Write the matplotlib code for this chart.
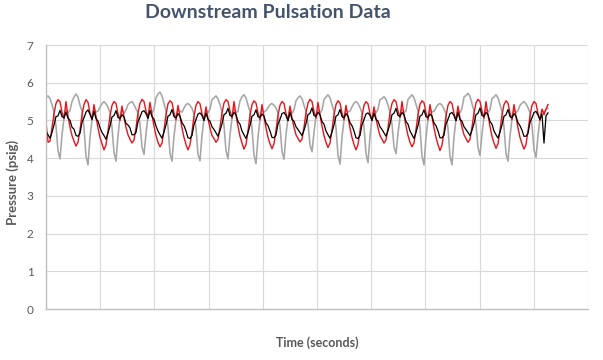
import numpy as np
import matplotlib
matplotlib.use("Agg")
import matplotlib.pyplot as plt

# pressure samples (psig), one row per pulsation cycle, 2 px apart in the source chart
GRAY = [
    5.60, 5.65, 5.58, 5.42, 5.22, 4.85, 4.20, 3.98, 4.62, 5.05, 5.28, 5.20, 5.27, 5.50,
    5.62, 5.70, 5.62, 5.40, 5.25, 4.80, 4.05, 3.82, 4.55, 5.00, 5.30, 5.22, 5.25, 5.35,
    5.45, 5.50, 5.44, 5.35, 5.20, 4.82, 4.15, 3.92, 4.60, 5.08, 5.30, 5.18, 5.28, 5.42,
    5.47, 5.50, 5.42, 5.30, 5.22, 4.90, 4.30, 4.10, 4.65, 5.10, 5.27, 5.20, 5.30, 5.60,
    5.70, 5.75, 5.65, 5.45, 5.25, 4.82, 4.12, 3.92, 4.58, 5.02, 5.30, 5.24, 5.22, 5.33,
    5.42, 5.45, 5.40, 5.32, 5.18, 4.80, 4.10, 3.93, 4.60, 5.05, 5.28, 5.20, 5.30, 5.55,
    5.60, 5.65, 5.57, 5.42, 5.22, 4.86, 4.20, 3.98, 4.62, 5.05, 5.30, 5.20, 5.25, 5.52,
    5.63, 5.68, 5.60, 5.40, 5.24, 4.80, 4.08, 3.85, 4.56, 5.02, 5.28, 5.22, 5.26, 5.34,
    5.42, 5.45, 5.40, 5.33, 5.20, 4.84, 4.18, 3.97, 4.62, 5.06, 5.30, 5.18, 5.28, 5.52,
    5.60, 5.65, 5.58, 5.40, 5.24, 4.92, 4.35, 4.17, 4.68, 5.10, 5.28, 5.20, 5.27, 5.55,
    5.62, 5.68, 5.60, 5.42, 5.23, 4.80, 4.08, 3.84, 4.55, 5.00, 5.30, 5.22, 5.25, 5.36,
    5.46, 5.50, 5.45, 5.34, 5.20, 4.82, 4.12, 3.88, 4.58, 5.05, 5.28, 5.20, 5.30, 5.55,
    5.58, 5.63, 5.56, 5.40, 5.22, 4.90, 4.30, 4.12, 4.66, 5.08, 5.30, 5.20, 5.26, 5.56,
    5.62, 5.68, 5.60, 5.42, 5.25, 4.80, 4.05, 3.82, 4.55, 5.02, 5.30, 5.22, 5.24, 5.34,
    5.42, 5.45, 5.40, 5.30, 5.18, 4.78, 4.05, 3.82, 4.56, 5.04, 5.28, 5.20, 5.32, 5.62,
    5.66, 5.72, 5.64, 5.45, 5.25, 4.90, 4.28, 4.07, 4.64, 5.08, 5.30, 5.22, 5.28, 5.58,
    5.62, 5.68, 5.60, 5.42, 5.24, 4.82, 4.12, 3.92, 4.58, 5.04, 5.30, 5.20, 5.26, 5.40,
    5.46, 5.50, 5.44, 5.34, 5.20, 4.86, 4.22, 4.02, 4.60, 5.05, 5.28, 5.22, 5.30, 5.32,
]
RED = [
    4.95, 4.42, 4.45, 4.80, 5.18, 5.45, 5.55, 5.50, 5.22, 5.05, 5.50, 5.12, 4.82, 4.60,
    4.45, 4.32, 4.42, 4.75, 5.15, 5.42, 5.55, 5.48, 5.20, 5.02, 5.42, 5.10, 4.80, 4.55,
    4.38, 4.22, 4.35, 4.72, 5.12, 5.40, 5.50, 5.45, 5.18, 5.00, 5.38, 5.08, 4.82, 4.62,
    4.50, 4.40, 4.48, 4.80, 5.20, 5.45, 5.56, 5.50, 5.25, 5.08, 5.48, 5.15, 4.85, 4.60,
    4.42, 4.30, 4.40, 4.75, 5.15, 5.44, 5.52, 5.47, 5.20, 5.02, 5.40, 5.10, 4.80, 4.55,
    4.36, 4.22, 4.35, 4.70, 5.12, 5.40, 5.50, 5.44, 5.18, 5.00, 5.36, 5.05, 4.80, 4.60,
    4.52, 4.42, 4.50, 4.82, 5.20, 5.46, 5.55, 5.50, 5.25, 5.06, 5.50, 5.14, 4.84, 4.58,
    4.40, 4.24, 4.36, 4.72, 5.14, 5.42, 5.52, 5.46, 5.20, 5.02, 5.42, 5.10, 4.80, 4.55,
    4.38, 4.25, 4.38, 4.74, 5.14, 5.40, 5.50, 5.45, 5.18, 5.00, 5.38, 5.06, 4.82, 4.62,
    4.52, 4.43, 4.50, 4.82, 5.20, 5.46, 5.56, 5.50, 5.24, 5.06, 5.48, 5.14, 4.85, 4.60,
    4.42, 4.28, 4.40, 4.75, 5.15, 5.42, 5.52, 5.46, 5.20, 5.02, 5.40, 5.10, 4.80, 4.55,
    4.36, 4.22, 4.36, 4.72, 5.12, 5.40, 5.50, 5.44, 5.18, 5.00, 5.36, 5.05, 4.80, 4.60,
    4.50, 4.40, 4.48, 4.80, 5.20, 5.45, 5.55, 5.50, 5.25, 5.08, 5.50, 5.15, 4.85, 4.60,
    4.42, 4.30, 4.40, 4.75, 5.15, 5.43, 5.52, 5.47, 5.20, 5.02, 5.42, 5.10, 4.80, 4.55,
    4.36, 4.20, 4.34, 4.70, 5.12, 5.40, 5.50, 5.45, 5.18, 5.00, 5.38, 5.06, 4.82, 4.62,
    4.52, 4.42, 4.50, 4.82, 5.20, 5.46, 5.56, 5.50, 5.25, 5.06, 5.50, 5.14, 4.84, 4.58,
    4.40, 4.26, 4.38, 4.74, 5.14, 5.42, 5.52, 5.46, 5.20, 5.02, 5.42, 5.10, 4.80, 4.55,
    4.38, 4.24, 4.36, 4.72, 5.12, 5.40, 5.50, 5.45, 5.18, 5.00, 5.30, 5.15, 5.30, 5.42,
]
BLACK = [
    4.72, 4.62, 4.53, 4.68, 4.88, 5.10, 5.12, 5.27, 5.10, 5.07, 5.22, 5.06, 5.00, 4.82,
    4.77, 4.60, 4.58, 4.66, 4.95, 5.07, 5.22, 5.28, 5.16, 5.03, 5.24, 5.05, 4.98, 4.81,
    4.68, 4.60, 4.50, 4.67, 4.85, 5.09, 5.13, 5.26, 5.08, 5.05, 5.15, 5.09, 4.92, 4.88,
    4.80, 4.62, 4.62, 4.68, 4.97, 5.09, 5.23, 5.26, 5.18, 5.05, 5.26, 5.10, 5.03, 4.85,
    4.72, 4.62, 4.53, 4.69, 4.88, 5.11, 5.15, 5.29, 5.10, 5.07, 5.18, 5.11, 4.94, 4.86,
    4.72, 4.54, 4.52, 4.60, 4.89, 5.02, 5.17, 5.20, 5.13, 5.00, 5.19, 5.03, 4.98, 4.83,
    4.76, 4.67, 4.58, 4.73, 4.91, 5.15, 5.19, 5.32, 5.13, 5.11, 5.21, 5.15, 4.97, 4.90,
    4.72, 4.62, 4.52, 4.68, 4.87, 5.11, 5.15, 5.28, 5.10, 5.08, 5.17, 5.11, 4.93, 4.86,
    4.72, 4.55, 4.54, 4.61, 4.91, 5.03, 5.18, 5.21, 5.13, 4.99, 5.21, 5.03, 4.98, 4.83,
    4.76, 4.68, 4.60, 4.74, 4.92, 5.15, 5.19, 5.33, 5.13, 5.11, 5.21, 5.15, 4.97, 4.90,
    4.72, 4.62, 4.53, 4.69, 4.88, 5.11, 5.15, 5.29, 5.10, 5.07, 5.18, 5.11, 4.94, 4.86,
    4.72, 4.54, 4.52, 4.60, 4.89, 5.02, 5.17, 5.20, 5.13, 5.00, 5.19, 5.03, 4.98, 4.83,
    4.76, 4.67, 4.58, 4.73, 4.91, 5.15, 5.19, 5.32, 5.13, 5.11, 5.21, 5.15, 4.97, 4.90,
    4.72, 4.62, 4.52, 4.68, 4.87, 5.11, 5.15, 5.28, 5.10, 5.08, 5.17, 5.11, 4.93, 4.86,
    4.72, 4.54, 4.54, 4.61, 4.91, 5.03, 5.18, 5.21, 5.13, 4.99, 5.21, 5.03, 4.98, 4.83,
    4.76, 4.68, 4.60, 4.74, 4.92, 5.15, 5.19, 5.33, 5.13, 5.11, 5.21, 5.15, 4.97, 4.90,
    4.72, 4.62, 4.53, 4.69, 4.88, 5.11, 5.15, 5.29, 5.10, 5.07, 5.18, 5.11, 4.94, 4.86,
    4.74, 4.58, 4.58, 4.66, 4.95, 5.07, 5.21, 5.24, 5.14, 5.03, 5.17, 4.40, 5.12, 5.20,
]
DT = 0.0369          # seconds between samples
Y_TICKS = [0, 1, 2, 3, 4, 5, 6, 7]

TXT = "#595959"
GRID = "#D9D9D9"

plt.rcParams["font.family"] = ["Lato", "DejaVu Sans"]

fig = plt.figure(figsize=(6.03, 3.6), dpi=100)
ax = fig.add_axes([46 / 603, 1 - 309 / 360, 542 / 603, 264 / 360])

t = np.arange(len(GRAY)) * DT
ax.plot(t, GRAY, color="#A6A6A6", lw=1.15)
ax.plot(t, RED, color="#E8141B", lw=1.0)
ax.plot(t, BLACK, color="#000000", lw=0.9)

ax.set_xlim(0, 10)
ax.set_ylim(0, 7)
ax.set_xticks(np.arange(0, 11))
ax.set_xticklabels([])
ax.set_yticks(Y_TICKS)
ax.tick_params(length=0, labelsize=8.5, labelcolor=TXT, pad=9)
ax.grid(True, color=GRID, lw=0.8)
ax.set_axisbelow(True)
for s in ("top", "right"):
    ax.spines[s].set_visible(False)
for s in ("left", "bottom"):
    ax.spines[s].set_color("#BFBFBF")
    ax.spines[s].set_linewidth(1.0)

fig.text(268 / 603, 1 - 13 / 360, "Downstream Pulsation Data", ha="center", va="center",
         fontsize=14, fontweight="bold", color="#44546A")
fig.text(317 / 603, 1 - 343 / 360, "Time (seconds)", ha="center", va="center",
         fontsize=9, fontweight="bold", color=TXT)
fig.text(13 / 603, 1 - 182 / 360, "Pressure (psig)", ha="center", va="center",
         rotation=90, fontsize=9.5, fontweight="bold", color=TXT)

fig.savefig("out.png", dpi=100, facecolor="white")
